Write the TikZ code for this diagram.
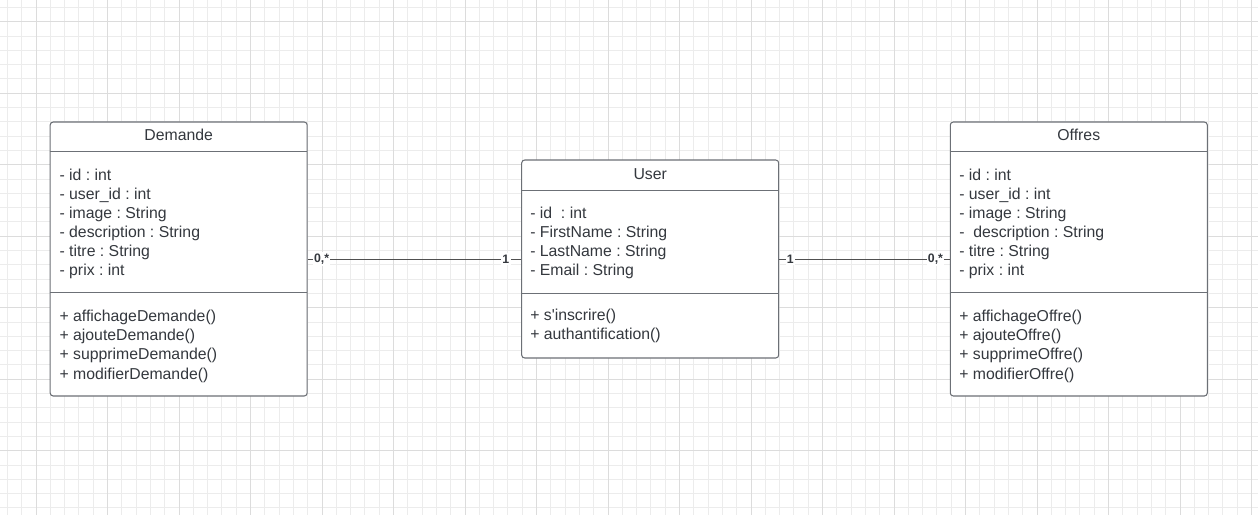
\documentclass[tikz,border=0pt]{standalone}
\usepackage{fontspec}
\setmainfont{Liberation Sans}
\usepackage{tikz}
\usepackage{xcolor}
\frenchspacing
\definecolor{gridminor}{RGB}{236,236,236}
\definecolor{gridmajor}{RGB}{220,220,220}
\definecolor{boxline}{RGB}{108,112,118}
\definecolor{txt}{RGB}{52,56,62}
\definecolor{wire}{RGB}{80,80,80}
\tikzstyle{classbox} = [rectangle, rounded corners=2.25pt, minimum width=192.75pt, draw=boxline, line width=0.8pt, fill=white, inner sep=0pt]
\tikzstyle{classname} = [anchor=base, inner sep=0pt, text=txt, font=\fontsize{11.85}{14}\selectfont]
\tikzstyle{member} = [anchor=base west, inner sep=0pt, text=txt, font=\fontsize{11.85}{14}\selectfont]
\tikzstyle{divider} = [draw=boxline, line width=0.8pt]
\tikzstyle{assoc} = [draw=wire, line width=0.75pt]
\tikzstyle{mult} = [fill=white, inner sep=1pt, text=txt, font=\bfseries\fontsize{9.2}{10}\selectfont]

\begin{document}
\begin{tikzpicture}[x=0.75pt, y=-0.75pt]
            % Draw Grid
            \useasboundingbox (0,0) rectangle (1258,515);
            \fill[white] (0,0) rectangle (1258,515);
            \foreach \i in {0,...,87} \draw[gridminor, line width=0.75pt] (7.4+14.3*\i,0) -- (7.4+14.3*\i,515);
            \foreach \j in {0,...,35} \draw[gridminor, line width=0.75pt] (0,7.4+14.3*\j) -- (1258,7.4+14.3*\j);
            \foreach \i in {0,...,17} \draw[gridmajor, line width=0.75pt] (36+71.5*\i,0) -- (36+71.5*\i,515);
            \foreach \j in {0,...,6} \draw[gridmajor, line width=0.75pt] (0,21.7+71.5*\j) -- (1258,21.7+71.5*\j);

            % Draw Boxes
            \node (demande) [classbox, minimum height=205.5pt] at (178.7,259) {};
            \node (user) [classbox, minimum height=148.5pt] at (650.2,259) {};
            \node (offres) [classbox, minimum height=205.5pt] at (1078.8,259) {};

            % Draw Dividers
            \draw[divider] (demande.north west) ++(0,30.3) -- ++(257,0);
            \draw[divider] (demande.north west) ++(0,171.3) -- ++(257,0);
            \draw[divider] (user.north west) ++(0,30.7) -- ++(257,0);
            \draw[divider] (user.north west) ++(0,133.7) -- ++(257,0);
            \draw[divider] (offres.north west) ++(0,30.3) -- ++(257,0);
            \draw[divider] (offres.north west) ++(0,171.3) -- ++(257,0);

            % Draw Texts
            \node (dem-name) [classname] at (178.7,140.8) {Demande};
            \foreach \t [count=\i] in {- id : int, - user\_id : int, - image : String, - description : String, - titre : String, - prix : int}
                \node (dem-a\i) [member] at (59.3,161+19.1*\i) {\t};
            \foreach \t [count=\i] in {+ affichageDemande(), + ajouteDemande(), + supprimeDemande(), + modifierDemande()}
                \node (dem-m\i) [member] at (59.3,302.6+19.1*\i) {\t};

            \node (usr-name) [classname] at (650.2,179.2) {User};
            \foreach \t [count=\i] in {- id\ \ : int, - FirstName : String, - LastName : String, - Email : String}
                \node (usr-a\i) [member] at (530,199+19.1*\i) {\t};
            \foreach \t [count=\i] in {+ s\textquotesingle inscrire(), + authantification()}
                \node (usr-m\i) [member] at (530,301.4+19.1*\i) {\t};

            \node (off-name) [classname] at (1078.8,140.8) {Offres};
            \foreach \t [count=\i] in {- id : int, - user\_id : int, - image : String, -\ \ description : String, - titre : String, - prix : int}
                \node (off-a\i) [member] at (959,161+19.1*\i) {\t};
            \foreach \t [count=\i] in {+ affichageOffre(), + ajouteOffre(), + supprimeOffre(), + modifierOffre()}
                \node (off-m\i) [member] at (959,302.6+19.1*\i) {\t};

            % Draw Arrows
            \draw[assoc] (demande) -- (user) node (dem-many) [mult, pos=0.065] {0,*} node (usr-one-l) [mult, pos=0.928] {1};
            \draw[assoc] (user) -- (offres) node (usr-one-r) [mult, pos=0.065] {1} node (off-many) [mult, pos=0.916] {0,*};
        \end{tikzpicture}
\end{document}
